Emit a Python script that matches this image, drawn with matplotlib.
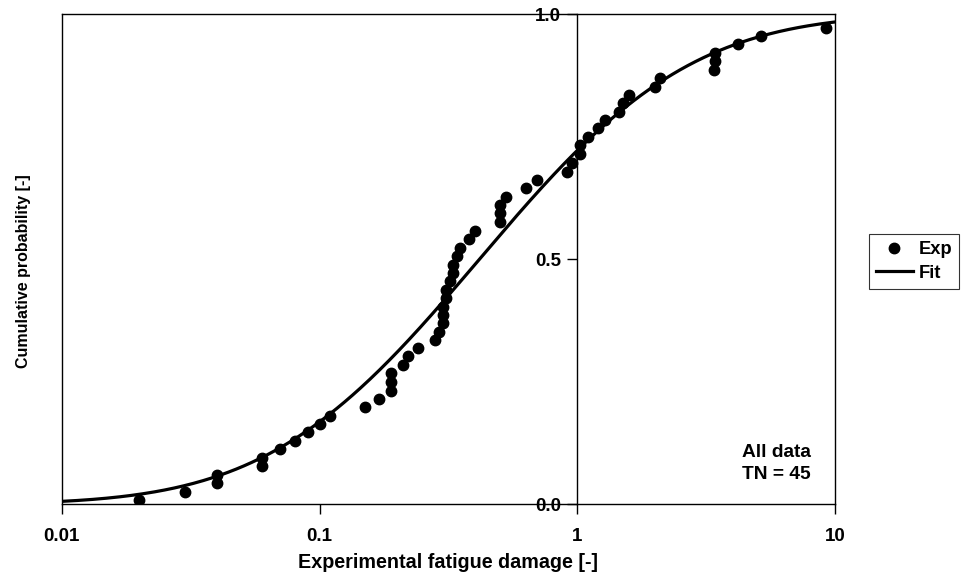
import math
import numpy as np
import matplotlib
matplotlib.use("Agg")
import matplotlib.pyplot as plt

# Experimental fatigue damage and cumulative probability of each specimen
damage = [0.020, 0.030, 0.040, 0.040, 0.060, 0.060, 0.070, 0.080, 0.090, 0.100,
          0.110, 0.150, 0.170, 0.190, 0.190, 0.190, 0.210, 0.220, 0.240, 0.280,
          0.290, 0.300, 0.300, 0.300, 0.310, 0.310, 0.320, 0.330, 0.330, 0.340,
          0.350, 0.380, 0.400, 0.500, 0.500, 0.500, 0.530, 0.630, 0.700, 0.910,
          0.950, 1.020, 1.020, 1.100, 1.200, 1.280, 1.450, 1.500, 1.590, 2.000,
          2.090, 3.380, 3.430, 3.430, 4.180, 5.150, 9.170]
probability = [0.009, 0.026, 0.043, 0.060, 0.079, 0.095, 0.113, 0.130, 0.147, 0.164,
               0.181, 0.198, 0.215, 0.232, 0.249, 0.267, 0.285, 0.302, 0.319, 0.335,
               0.352, 0.369, 0.386, 0.403, 0.420, 0.438, 0.455, 0.472, 0.489, 0.506,
               0.523, 0.541, 0.558, 0.575, 0.594, 0.610, 0.627, 0.645, 0.661, 0.678,
               0.697, 0.714, 0.733, 0.750, 0.767, 0.784, 0.801, 0.818, 0.835, 0.852,
               0.869, 0.886, 0.904, 0.921, 0.938, 0.955, 0.972]

# Log-normal fit parameters (median and standard deviation of log10 damage)
fit_median = 0.417
fit_sigma = 0.645

x_ticks = [0.01, 0.1, 1, 10]
x_tick_labels = ["0.01", "0.1", "1", "10"]
y_ticks = [0.0, 0.5, 1.0]
y_tick_labels = ["0.0", "0.5", "1.0"]

plt.rcParams['font.family'] = ['Liberation Sans', 'DejaVu Sans']
plt.rcParams['font.weight'] = 'bold'

fig = plt.figure(figsize=(9.62, 5.81), dpi=100)
ax = fig.add_axes([0.0641, 0.1320, 0.8042, 0.8439])

xf = np.logspace(-2, 1, 400)
zf = (np.log10(xf) - math.log10(fit_median)) / fit_sigma
yf = 0.5 * (1.0 + np.vectorize(math.erf)(zf / math.sqrt(2.0)))

ax.plot(xf, yf, color='black', lw=2.3, label='Fit', zorder=3)
ax.plot(damage, probability, 'o', color='black', ms=7.5, label='Exp', zorder=4)

ax.set_xscale('log')
ax.set_xlim(0.01, 10)
ax.set_ylim(0, 1)

# y axis drawn through x = 1, frame kept around the plot area
ax.spines['left'].set_position(('data', 1))
for s in ax.spines.values():
    s.set_linewidth(1.0)
    s.set_color('black')
ax.plot([0, 0], [0, 1], transform=ax.transAxes, color='black', lw=1.0,
        clip_on=False, zorder=5)

ax.set_xticks(x_ticks)
ax.set_xticklabels(x_tick_labels)
ax.xaxis.set_minor_locator(matplotlib.ticker.NullLocator())
ax.set_yticks(y_ticks)
ax.set_yticklabels(y_tick_labels)
ax.tick_params(axis='both', direction='out', length=7, width=1.0,
               labelsize=13.5, colors='black')
ax.tick_params(axis='x', pad=10)
ax.tick_params(axis='y', pad=5)
for lab in ax.get_xticklabels() + ax.get_yticklabels():
    lab.set_fontweight('bold')

ax.set_xlabel("Experimental fatigue damage [-]", fontsize=14.2,
              fontweight='bold', labelpad=6)
fig.text(24 / 962, 1 - 271 / 581, "Cumulative probability [-]", rotation=90,
         fontsize=11.5, fontweight='bold', ha='center', va='center')

ax.text(0.924, 0.083, "All data\nTN = 45", transform=ax.transAxes,
        ha='center', va='center', multialignment='center',
        fontsize=13.8, fontweight='bold', linespacing=1.4)

handles, labels = ax.get_legend_handles_labels()
order = [1, 0]
leg = fig.legend([handles[i] for i in order], [labels[i] for i in order],
                 loc='upper left', bbox_to_anchor=(869 / 962, 1 - 234 / 581),
                 frameon=True, fancybox=False, edgecolor='black',
                 handlelength=1.98, handletextpad=0.31,
                 borderpad=0.4, labelspacing=0.35, borderaxespad=0,
                 prop={'weight': 'bold', 'size': 13.2})
leg.get_frame().set_linewidth(0.8)

fig.savefig("out.png", dpi=100)
